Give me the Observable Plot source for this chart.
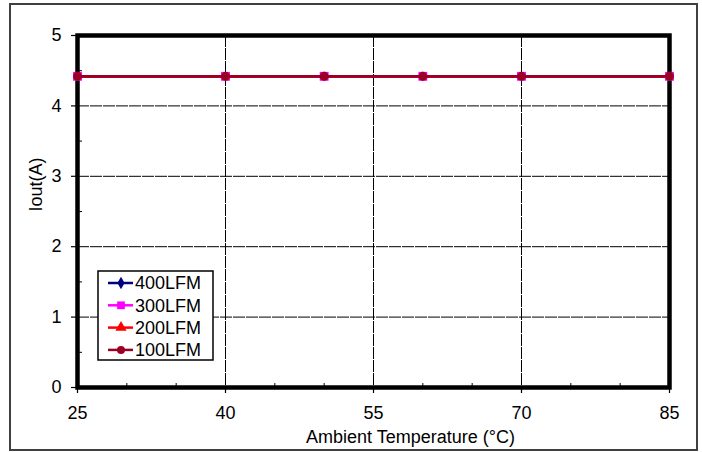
<!DOCTYPE html>
<html>
<head>
<meta charset="utf-8">
<script src="https://cdn.jsdelivr.net/npm/d3@7"></script>
<script src="https://cdn.jsdelivr.net/npm/@observablehq/plot@0.6"></script>
<style>
  html, body { margin: 0; padding: 0; background: #fff; }
  #wrap { position: relative; width: 702px; height: 452px; overflow: hidden; font-family: "Liberation Sans", Arial, sans-serif; }
  #outer { position: absolute; left: 9px; top: 3px; width: 689px; height: 448px; border: 2px solid #404040; box-sizing: border-box; pointer-events: none; }
  #legend { position: absolute; left: 97px; top: 270px; }
  svg { display: block; }
</style>
</head>
<body>
<div id="wrap">
  <div id="chart"></div>
  <div id="outer"></div>
  <div id="legend"></div>
</div>
<script>
// ---- data ----
const temps = [25, 40, 50, 60, 70, 85];
const seriesNames = ["400LFM", "300LFM", "200LFM", "100LFM"];
const iout400 = [4.42, 4.42, 4.42, 4.42, 4.42, 4.42];
const iout300 = [4.42, 4.42, 4.42, 4.42, 4.42, 4.42];
const iout200 = [4.42, 4.42, 4.42, 4.42, 4.42, 4.42];
const iout100 = [4.42, 4.42, 4.42, 4.42, 4.42, 4.42];
const seriesColors = ["#000080", "#FF00FF", "#FF0000", "#990024"];
const seriesSymbols = ["diamond", "square", "triangle", "circle"];
const xTicks = [25, 40, 55, 70, 85];
const xMinor = [30, 35, 45, 50, 60, 65, 75, 80];
const yTicks = [0, 1, 2, 3, 4, 5];
const yMinor = [0.5, 1.5, 2.5, 3.5, 4.5];
const xTitle = "Ambient Temperature (°C)";
const yTitle = "Iout(A)";

const allValues = [iout400, iout300, iout200, iout100];
const rows = seriesNames.flatMap((s, i) => temps.map((t, j) => ({series: s, temp: t, iout: allValues[i][j]})));

const W = 702, H = 452, mL = 77, mR = 33, mT = 35, mB = 65;
const plotW = W - mL - mR, plotH = H - mT - mB;
const font = "'Liberation Sans', Arial, sans-serif";
const fs = 18;

const dotR = [3, 5, 3, 4.5];
const seriesMarks = seriesNames.flatMap((s, i) => {
  const d = rows.filter(r => r.series === s);
  return [
    Plot.line(d, {x: "temp", y: "iout", stroke: seriesColors[i], strokeWidth: 2.7}),
    Plot.dot(d, {x: "temp", y: "iout", symbol: () => seriesSymbols[i], fill: seriesColors[i], stroke: "none", r: dotR[i]})
  ];
});

const chart = Plot.plot({
  width: W, height: H,
  marginLeft: mL, marginRight: mR, marginTop: mT, marginBottom: mB,
  style: {fontFamily: font, fontSize: fs + "px", color: "black", background: "transparent"},
  x: {domain: [25, 85], label: null},
  y: {domain: [0, 5], label: null},
  symbol: {type: "identity"},
  marks: [
    Plot.gridX(xTicks.filter(t => t > 25 && t < 85), {stroke: "black", strokeOpacity: 1, strokeWidth: 1, strokeDasharray: "12,1"}),
    Plot.gridY(yTicks.filter(t => t > 0 && t < 5), {stroke: "black", strokeOpacity: 1, strokeWidth: 1, strokeDasharray: "12,1"}),
    Plot.tickX(xMinor, {x: d => d, stroke: "black", strokeWidth: 1, insetTop: plotH - 4}),
    Plot.tickY(yMinor, {y: d => d, stroke: "black", strokeWidth: 1, insetRight: plotW - 5}),
    Plot.axisX({ticks: xTicks, tickFormat: d => String(d), tickSize: 6, tickPadding: 13, label: null, strokeWidth: 1.2, fontSize: fs}),
    Plot.axisY({ticks: yTicks, tickFormat: d => String(d), tickSize: 6, tickPadding: 10, label: null, strokeWidth: 1.2, fontSize: fs}),
    Plot.frame({stroke: "black", strokeWidth: 4.5}),
    ...seriesMarks,
    Plot.text([xTitle], {text: d => d, frameAnchor: "bottom", dx: 37, dy: 50, lineAnchor: "middle", fontSize: fs, fill: "black"}),
    Plot.text([yTitle], {text: d => d, frameAnchor: "left", dx: -41, rotate: -90, lineAnchor: "middle", fontSize: fs, fill: "black"})
  ]
});
document.getElementById("chart").appendChild(chart);

// ---- legend ----
const lgW = 117, lgH = 91, rowH = 22.3;
const lg = d3.select("#legend").append("svg").attr("width", lgW).attr("height", lgH);
lg.append("rect").attr("x", 1).attr("y", 1).attr("width", lgW - 2).attr("height", lgH - 2)
  .attr("fill", "white").attr("stroke", "black").attr("stroke-width", 1.5);
const symMap = {diamond: d3.symbolDiamond, square: d3.symbolSquare, triangle: d3.symbolTriangle, circle: d3.symbolCircle};
const symSize = {diamond: 45, square: 60, triangle: 55, circle: 50};
seriesNames.forEach((s, i) => {
  const cy = 13 + i * rowH;
  const g = lg.append("g");
  g.append("line").attr("x1", 11).attr("x2", 36).attr("y1", cy).attr("y2", cy)
    .attr("stroke", seriesColors[i]).attr("stroke-width", 2.5);
  g.append("path").attr("d", d3.symbol(symMap[seriesSymbols[i]], symSize[seriesSymbols[i]])())
    .attr("transform", `translate(24,${cy})`).attr("fill", seriesColors[i]);
  g.append("text").attr("x", 38).attr("y", cy).attr("dy", "0.36em")
    .attr("font-family", font).attr("font-size", fs).attr("fill", "black").text(s);
});
</script>
</body>
</html>
